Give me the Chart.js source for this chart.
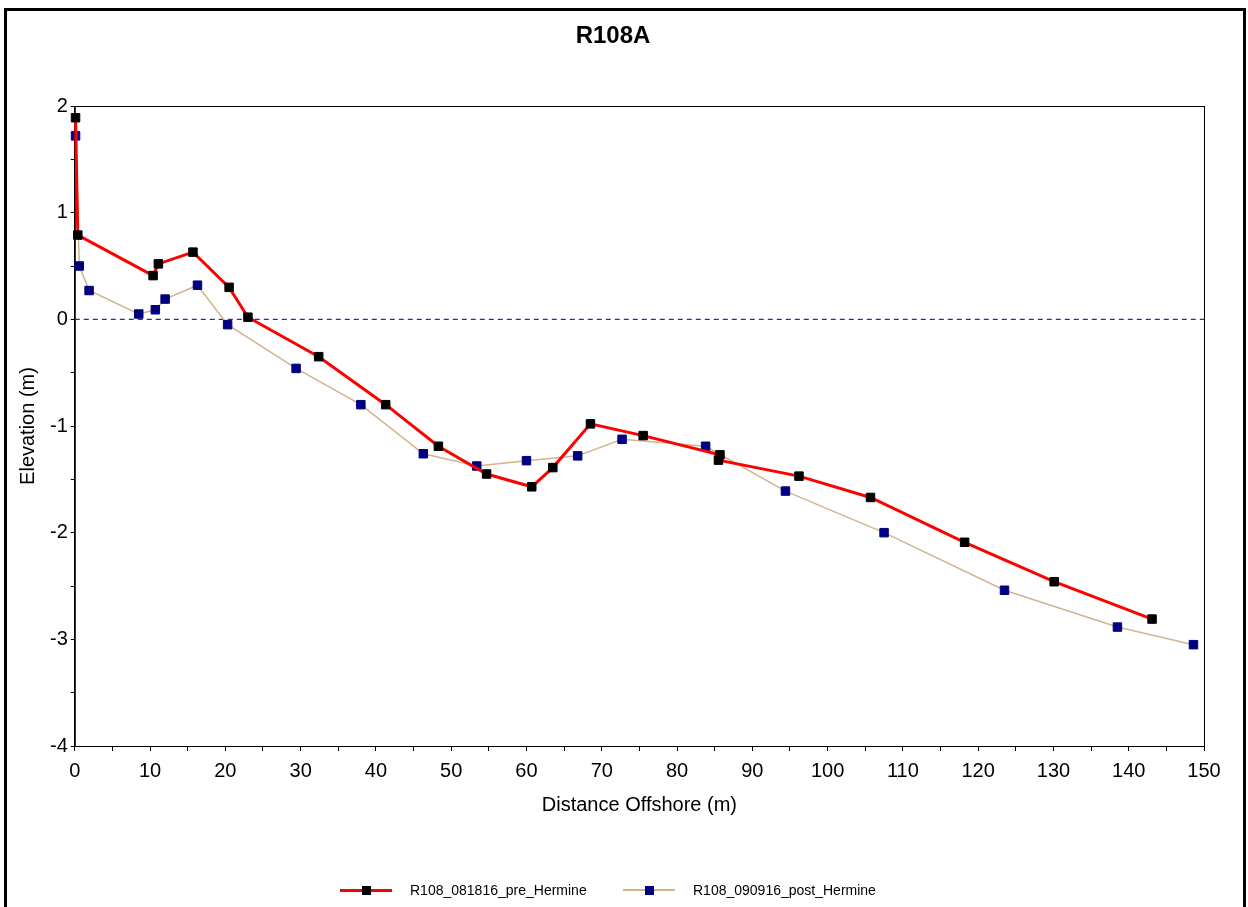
<!DOCTYPE html>
<html lang="en">
<head>
  <meta charset="UTF-8" />
  <title>R108A</title>
  <script src="https://cdn.jsdelivr.net/npm/chart.js"></script>
  <style>
    body {
      margin: 0;
      width: 1248px;
      height: 907px;
      overflow: hidden;
      background: #fff;
      font-family: "Liberation Sans", Arial, sans-serif;
    }
    .frame {
      position: absolute;
      left: 4px;
      top: 8px;
      width: 1236px;
      height: 940px;
      border: 3px solid #000;
    }
    #profileChart {
      position: absolute;
      left: 0;
      top: 0;
    }
    .title {
      position: absolute;
      left: 513px;
      width: 200px;
      top: 20px;
      text-align: center;
      font-weight: bold;
      font-size: 24px;
      line-height: 30px;
      color: #000;
    }
    .legend-item {
      position: absolute;
      top: 880px;
      height: 20px;
      display: flex;
      align-items: center;
      font-size: 14px;
      color: #000;
    }
    .legend-item .sample {
      position: relative;
      width: 52px;
      height: 20px;
      margin-right: 18px;
    }
    .sample .ln {
      position: absolute;
      left: 0;
      right: 0;
      top: 50%;
    }
    .sample .sq {
      position: absolute;
      left: 50%;
      top: 50%;
      width: 9px;
      height: 9px;
      margin: -4.5px 0 0 -4.5px;
    }
  </style>
</head>
<body>
  <div class="frame"></div>
  <canvas id="profileChart" width="1248" height="907"></canvas>
  <div class="title">R108A</div>
  <div class="legend-item" style="left:340px">
    <span class="sample"><span class="ln" style="height:3px;margin-top:-1.5px;background:#ff0000"></span><span class="sq" style="background:#000"></span></span>
    <span id="leg0"></span>
  </div>
  <div class="legend-item" style="left:623px">
    <span class="sample"><span class="ln" style="height:2px;margin-top:-1px;background:#d2b48c"></span><span class="sq" style="background:#000080"></span></span>
    <span id="leg1"></span>
  </div>

  <script>
    const seriesNames = ["R108_081816_pre_Hermine", "R108_090916_post_Hermine"];

    // pre storm survey
    const preDistance = [0.1, 0.4, 10.4, 11.1, 15.7, 20.5, 23.0, 32.4, 41.3, 48.3, 54.7, 60.7, 63.5, 68.5, 75.5, 85.7, 85.5, 96.2, 105.7, 118.2, 130.1, 143.1];
    const preElevation = [1.89, 0.79, 0.41, 0.52, 0.63, 0.30, 0.02, -0.35, -0.80, -1.19, -1.45, -1.57, -1.39, -0.98, -1.09, -1.27, -1.32, -1.47, -1.67, -2.09, -2.46, -2.81];

    // post storm survey
    const postDistance = [0.1, 0.6, 1.9, 8.5, 10.7, 12.0, 16.3, 20.3, 29.4, 38.0, 46.3, 53.4, 60.0, 66.8, 72.7, 83.8, 94.4, 107.5, 123.5, 138.5, 148.6];
    const postElevation = [1.72, 0.50, 0.27, 0.05, 0.09, 0.19, 0.32, -0.05, -0.46, -0.80, -1.26, -1.375, -1.325, -1.28, -1.125, -1.19, -1.61, -2.00, -2.54, -2.885, -3.05];

    const zeroLine = [0, 150];

    document.getElementById("leg0").textContent = seriesNames[0];
    document.getElementById("leg1").textContent = seriesNames[1];

    const toPoints = (xs, ys) => xs.map((x, i) => ({ x, y: ys[i] }));

    Chart.defaults.font.family = '"Liberation Sans", Arial, sans-serif';
    Chart.defaults.color = "#000";

    const plotBox = {
      id: "plotBox",
      beforeDatasetsDraw(chart) {
        const { ctx, chartArea: a } = chart;
        ctx.save();
        ctx.strokeStyle = "#000";
        ctx.lineWidth = 1;
        ctx.strokeRect(a.left + 0.5, a.top + 0.5, a.right - a.left, a.bottom - a.top);
        ctx.restore();
      }
    };

    new Chart(document.getElementById("profileChart"), {
      type: "line",
      data: {
        datasets: [
          {
            label: seriesNames[0],
            data: toPoints(preDistance, preElevation),
            borderColor: "#ff0000",
            borderWidth: 3,
            pointStyle: "rect",
            pointRadius: 6,
            pointBackgroundColor: "#000",
            pointBorderColor: "#000",
            pointBorderWidth: 1,
            tension: 0,
            clip: false
          },
          {
            label: seriesNames[1],
            data: toPoints(postDistance, postElevation),
            borderColor: "#d2b48c",
            borderWidth: 1.5,
            pointStyle: "rect",
            pointRadius: 6,
            pointBackgroundColor: "#000080",
            pointBorderColor: "#000080",
            pointBorderWidth: 1,
            tension: 0,
            clip: false
          },
          {
            label: "zero",
            data: zeroLine.map(x => ({ x, y: 0 })),
            borderColor: "#2b2ba6",
            borderWidth: 1.2,
            borderDash: [5, 4],
            pointRadius: 0
          }
        ]
      },
      options: {
        responsive: false,
        animation: false,
        layout: { padding: { left: 10, right: 44, top: 106, bottom: 90 } },
        plugins: {
          legend: { display: false },
          tooltip: { enabled: false }
        },
        scales: {
          x: {
            type: "linear",
            min: 0,
            max: 150,
            border: { display: true, color: "#000", width: 1 },
            grid: { drawOnChartArea: false, drawTicks: true, tickLength: 5, color: "#000" },
            ticks: {
              stepSize: 5,
              autoSkip: false,
              maxRotation: 0,
              padding: 8,
              font: { size: 20 },
              callback: v => (v % 10 === 0 ? String(v) : "")
            },
            title: {
              display: true,
              text: "Distance Offshore (m)",
              font: { size: 20 },
              padding: { top: 2, bottom: 0 }
            }
          },
          y: {
            type: "linear",
            min: -4,
            max: 2,
            border: { display: true, color: "#000", width: 1 },
            grid: { drawOnChartArea: false, drawTicks: true, tickLength: 4, color: "#000" },
            ticks: {
              stepSize: 0.5,
              autoSkip: false,
              padding: 3,
              font: { size: 20 },
              callback: v => (Number.isInteger(v) ? String(v) : "")
            },
            title: {
              display: true,
              text: "Elevation (m)",
              font: { size: 20 },
              padding: { top: 6, bottom: 7 }
            }
          }
        }
      },
      plugins: [plotBox]
    });
  </script>
</body>
</html>
